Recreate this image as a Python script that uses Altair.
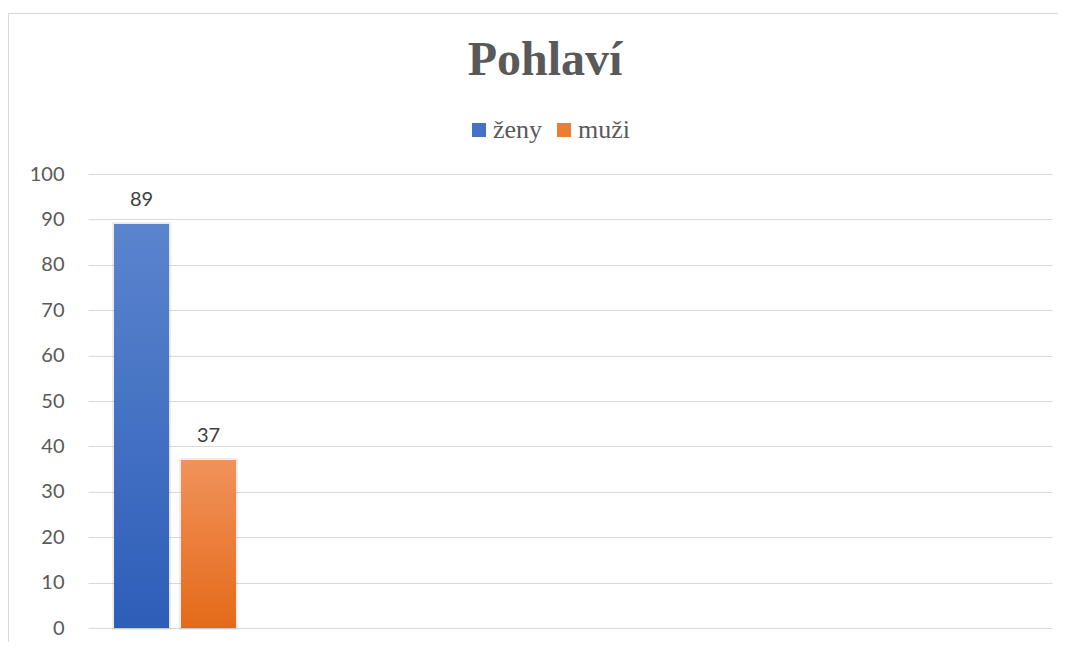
import altair as alt
import pandas as pd

# data
group_label = ["Pohlaví"]
categories = ["ženy", "muži"]
values = [89, 37]
y_ticks = [0, 10, 20, 30, 40, 50, 60, 70, 80, 90, 100]
solid_colors = ["#4472c4", "#ed7d31"]
grad_top = ["#5b84ce", "#f1925b"]
grad_bottom = ["#2d5eb8", "#e46a19"]

df = pd.DataFrame({"skupina": group_label * len(categories), "pohlavi": categories, "pocet": values})

x_enc = alt.X(
    "skupina:N",
    scale=alt.Scale(domain=group_label, paddingInner=0.7102, paddingOuter=1, align=0.0309),
    axis=None,
)
xo_enc = alt.XOffset(
    "pohlavi:N",
    sort=categories,
    scale=alt.Scale(domain=categories, paddingInner=0.179, paddingOuter=0),
)
y_enc = alt.Y(
    "pocet:Q",
    scale=alt.Scale(domain=[0, 100], nice=False),
    axis=alt.Axis(
        values=y_ticks,
        title=None,
        domain=False,
        ticks=False,
        grid=True,
        gridColor="#d9d9d9",
        gridWidth=1,
        labelFont="Lato",
        labelFontSize=20,
        labelColor="#595959",
        labelPadding=24,
    ),
)

base = alt.Chart(df)

shadow = base.mark_bar(
    fillOpacity=0, stroke="#000000", strokeWidth=4, strokeOpacity=0.07
).encode(x=x_enc, xOffset=xo_enc, y=alt.Y("pocet:Q"))

bars = base.mark_bar().encode(
    x=x_enc,
    xOffset=xo_enc,
    y=y_enc,
    color=alt.Color(
        "pohlavi:N",
        sort=categories,
        scale=alt.Scale(domain=categories, range=solid_colors),
        legend=alt.Legend(
            title=None,
            orient="none",
            legendX=378,
            legendY=-57,
            padding=0,
            direction="horizontal",
            symbolType="square",
            symbolSize=196,
            symbolStrokeWidth=0,
            labelFont="Liberation Serif",
            labelFontSize=26,
            labelColor="#595959",
            labelOffset=1,
            columnPadding=8,
        ),
    ),
)

layers = [shadow, bars]
for i, c in enumerate(categories):
    grad = alt.LinearGradient(
        gradient="linear",
        x1=0, y1=0, x2=0, y2=1,
        stops=[alt.GradientStop(color=grad_top[i], offset=0),
               alt.GradientStop(color=grad_bottom[i], offset=1)],
    )
    layers.append(
        base.transform_filter(alt.datum.pohlavi == c)
        .mark_bar(fill=grad)
        .encode(x=x_enc, xOffset=xo_enc, y=alt.Y("pocet:Q"))
    )

labels = base.mark_text(
    font="Lato", fontSize=20, color="#404040", baseline="alphabetic", dy=-18
).encode(x=x_enc, xOffset=xo_enc, y=alt.Y("pocet:Q"), text=alt.Text("pocet:Q"))
layers.append(labels)

frame = alt.Chart(alt.Data(values=[{"a": 1}])).mark_rect(
    fillOpacity=0, stroke="#d9d9d9", strokeWidth=1
).encode(
    x=alt.value(-79.5), x2=alt.value(1200), y=alt.value(-160.5), y2=alt.value(800)
)

chart = (
    alt.layer(frame, *layers)
    .properties(
        width=964,
        height=454,
        background="white",
        autosize=alt.AutoSizeParams(type="none"),
        padding={"left": 80, "top": 166, "right": 6, "bottom": 14},
        title=alt.TitleParams(
            "Pohlaví",
            font="Liberation Serif",
            fontSize=48,
            fontWeight="bold",
            color="#595959",
            anchor="middle",
            dx=-25,
            dy=72,
            offset=0,
        ),
    )
    .configure_view(stroke="transparent", strokeWidth=0)
)

chart.save("out.html", embed_options={"renderer": "svg", "actions": False})
